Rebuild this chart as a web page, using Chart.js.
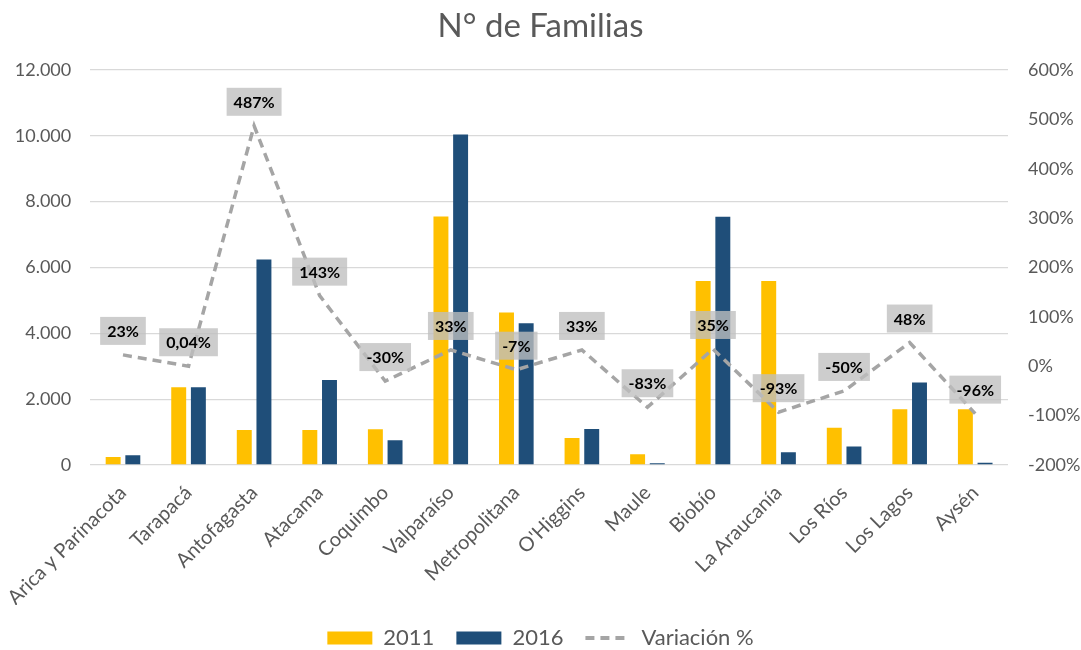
<!DOCTYPE html>
<html>
<head>
<meta charset="utf-8">
<script src="https://cdn.jsdelivr.net/npm/chart.js@4.4.1/dist/chart.umd.min.js"></script>
<style>
  html, body { margin: 0; padding: 0; background: #fff; }
  #wrap { width: 1081px; height: 650px; }
</style>
</head>
<body>
<div id="wrap"><canvas id="chart" width="1081" height="650"></canvas></div>
<script>
const regions = ['Arica y Parinacota', 'Tarapacá', 'Antofagasta', 'Atacama', 'Coquimbo', 'Valparaíso',
  'Metropolitana', "O'Higgins", 'Maule', 'Biobío', 'La Araucanía', 'Los Ríos', 'Los Lagos', 'Aysén'];
const families2011 = [240, 2360, 1065, 1060, 1085, 7550, 4630, 820, 325, 5590, 5590, 1135, 1695, 1690];
const families2016 = [295, 2360, 6240, 2580, 755, 10040, 4310, 1095, 55, 7545, 390, 565, 2505, 68];
const variation = [0.23, 0.0004, 4.87, 1.43, -0.30, 0.33, -0.07, 0.33, -0.83, 0.35, -0.93, -0.50, 0.48, -0.96];
const leftTicks = [0, 2000, 4000, 6000, 8000, 10000, 12000];
const rightTicks = [-2, -1, 0, 1, 2, 3, 4, 5, 6];

const fontFamily = 'Lato, "Open Sans", sans-serif';
const textGray = '#595959';
const lineDash = [9, 6];

function formatThousands(value) {
  return String(value).replace(/\B(?=(\d{3})+(?!\d))/g, '.');
}

function formatPct(value) {
  const pct = value * 100;
  if (Math.abs(pct) < 1 && pct !== 0) return pct.toFixed(2).replace('.', ',') + '%';
  return Math.round(pct) + '%';
}

// gray boxes with the variation value above each point of the line
const pctLabels = {
  id: 'pctLabels',
  afterDatasetsDraw(chart) {
    const meta = chart.getDatasetMeta(2);
    const ctx = chart.ctx;
    ctx.save();
    ctx.font = 'bold 16px ' + fontFamily;
    ctx.textAlign = 'center';
    ctx.textBaseline = 'middle';
    meta.data.forEach((pt, i) => {
      const text = formatPct(variation[i]);
      const w = ctx.measureText(text).width + 14;
      const h = 28;
      const cx = pt.x;
      const cy = pt.y - 24;
      ctx.fillStyle = 'rgba(191,191,191,0.78)';
      ctx.fillRect(cx - w / 2, cy - h / 2, w, h);
      ctx.fillStyle = '#000';
      ctx.fillText(text, cx, cy + 1);
    });
    ctx.restore();
  }
};

const ctx = document.getElementById('chart').getContext('2d');
new Chart(ctx, {
  data: {
    labels: regions,
    datasets: [
      {
        type: 'bar',
        label: '2011',
        data: families2011,
        backgroundColor: '#FFC000',
        yAxisID: 'y',
        order: 1,
        pointStyle: 'rect',
        categoryPercentage: 0.6,
        barPercentage: 0.76
      },
      {
        type: 'bar',
        label: '2016',
        data: families2016,
        backgroundColor: '#1F4E79',
        yAxisID: 'y',
        order: 1,
        pointStyle: 'rect',
        categoryPercentage: 0.6,
        barPercentage: 0.76
      },
      {
        type: 'line',
        label: 'Variación %',
        data: variation,
        borderColor: '#A5A5A5',
        backgroundColor: '#A5A5A5',
        borderWidth: 3.5,
        borderDash: lineDash,
        pointRadius: 0,
        pointStyle: 'line',
        tension: 0,
        yAxisID: 'y1',
        order: 0
      }
    ]
  },
  options: {
    responsive: false,
    animation: false,
    layout: { padding: { bottom: -9 } },
    plugins: {
      tooltip: { enabled: false },
      title: {
        display: true,
        text: 'N° de Familias',
        color: textGray,
        font: { family: fontFamily, size: 33, weight: 'normal' },
        padding: { top: 7, bottom: 23.4 }
      },
      legend: {
        position: 'bottom',
        labels: {
          usePointStyle: true,
          pointStyleWidth: 45,
          boxHeight: 13,
          color: textGray,
          padding: 22,
          font: { family: fontFamily, size: 22 },
          sort: (a, b) => a.datasetIndex - b.datasetIndex,
          generateLabels(chart) {
            const items = Chart.defaults.plugins.legend.labels.generateLabels(chart);
            items.forEach(item => {
              if (item.datasetIndex === 2) {
                item.lineDash = lineDash;
                item.lineWidth = 4;
                item.strokeStyle = '#A5A5A5';
              }
            });
            return items;
          }
        }
      }
    },
    scales: {
      x: {
        grid: { display: false },
        border: { display: false },
        ticks: {
          color: textGray,
          font: { family: fontFamily, size: 20 },
          minRotation: 45,
          maxRotation: 45,
          padding: 8
        },
        afterFit(scale) { scale.height = 140; }
      },
      y: {
        position: 'left',
        min: 0,
        max: 12000,
        afterBuildTicks(scale) { scale.ticks = leftTicks.map(v => ({ value: v })); },
        grid: { color: '#D9D9D9', lineWidth: 1.3, drawTicks: false },
        border: { display: false },
        ticks: {
          color: textGray,
          font: { family: fontFamily, size: 18 },
          padding: 19,
          callback: v => formatThousands(v)
        },
        afterFit(scale) { scale.width = 90; }
      },
      y1: {
        position: 'right',
        min: -2,
        max: 6,
        afterBuildTicks(scale) { scale.ticks = rightTicks.map(v => ({ value: v })); },
        grid: { display: false, drawTicks: false },
        border: { display: false },
        ticks: {
          color: textGray,
          font: { family: fontFamily, size: 18 },
          padding: 20,
          callback: v => Math.round(v * 100) + '%'
        },
        afterFit(scale) { scale.width = 73; }
      }
    }
  },
  plugins: [pctLabels]
});
</script>
</body>
</html>
